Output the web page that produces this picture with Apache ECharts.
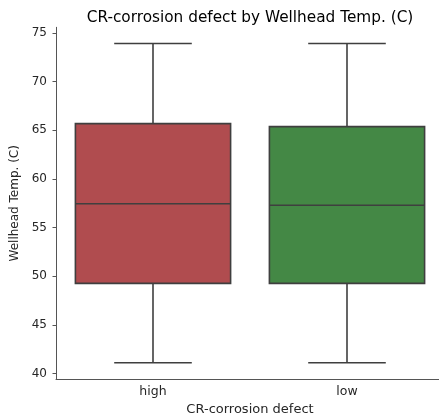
<!DOCTYPE html>
<html>
<head>
<meta charset="utf-8">
<script src="https://cdn.jsdelivr.net/npm/echarts@6/dist/echarts.min.js"></script>
<style>html,body{margin:0;padding:0;background:#fff}#c{width:439px;height:416px}</style>
</head>
<body>
<div id="c"></div>
<script>
const categories = ['high', 'low'];
const whiskerLow = [41.13, 41.13];
const q1 = [49.28, 49.28];
const median = [57.45, 57.29];
const q3 = [65.67, 65.36];
const whiskerHigh = [73.9, 73.9];
const boxColors = ['#b04c4f', '#448845'];
const yTicks = [40, 45, 50, 55, 60, 65, 70, 75];

const data = categories.map((c, i) => [i, whiskerLow[i], q1[i], median[i], q3[i], whiskerHigh[i]]);
const edge = '#3f3f3f';
const font = 'DejaVu Sans';

const chart = echarts.init(document.getElementById('c'), null, {renderer: 'canvas'});
chart.setOption({
  animation: false,
  title: {
    text: 'CR-corrosion defect by Wellhead Temp. (C)',
    left: 245, top: 6, textAlign: 'center',
    textStyle: {fontFamily: font, fontSize: 15.3, fontWeight: 'normal', color: '#000'}
  },
  grid: {left: 56, width: 388, top: 27.3, height: 352, containLabel: false, outerBoundsMode: 'none'},
  xAxis: {
    type: 'category', data: categories, boundaryGap: true,
    name: 'CR-corrosion defect', nameLocation: 'middle', nameGap: 22,
    nameTextStyle: {fontFamily: font, fontSize: 13, color: '#262626'},
    axisLine: {lineStyle: {color: '#555', width: 1}},
    axisTick: {alignWithLabel: true, length: 3.5, lineStyle: {color: '#555'}},
    axisLabel: {fontFamily: font, fontSize: 12.5, color: '#262626', margin: 6}
  },
  yAxis: {
    type: 'value', min: 39.43, max: 75.56,
    name: 'Wellhead Temp. (C)', nameLocation: 'middle', nameGap: 34,
    nameTextStyle: {fontFamily: font, fontSize: 12, color: '#262626'},
    axisLine: {show: true, lineStyle: {color: '#555', width: 1}},
    axisTick: {show: true, length: 3.5, lineStyle: {color: '#555'}, customValues: yTicks},
    axisLabel: {fontFamily: font, fontSize: 12, color: '#262626', margin: 9, customValues: yTicks},
    splitLine: {show: false}
  },
  series: [{
    type: 'custom',
    data: data,
    encode: {x: 0, y: [1, 2, 3, 4, 5]},
    renderItem: function (params, api) {
      const i = api.value(0);
      const bw = api.size([1, 0])[0] * 0.8;
      const cw = bw * 0.5;
      const pLo = api.coord([i, api.value(1)]);
      const pQ1 = api.coord([i, api.value(2)]);
      const pMed = api.coord([i, api.value(3)]);
      const pQ3 = api.coord([i, api.value(4)]);
      const pHi = api.coord([i, api.value(5)]);
      const cx = pQ1[0];
      const ls = {stroke: edge, lineWidth: 1.6, fill: null};
      return {
        type: 'group',
        children: [
          {type: 'line', shape: {x1: cx, y1: pLo[1], x2: cx, y2: pQ1[1]}, style: ls},
          {type: 'line', shape: {x1: cx, y1: pQ3[1], x2: cx, y2: pHi[1]}, style: ls},
          {type: 'line', shape: {x1: cx - cw / 2, y1: pLo[1], x2: cx + cw / 2, y2: pLo[1]}, style: ls},
          {type: 'line', shape: {x1: cx - cw / 2, y1: pHi[1], x2: cx + cw / 2, y2: pHi[1]}, style: ls},
          {type: 'rect', shape: {x: cx - bw / 2, y: pQ3[1], width: bw, height: pQ1[1] - pQ3[1]},
           style: {fill: boxColors[params.dataIndex], stroke: edge, lineWidth: 1.6}},
          {type: 'line', shape: {x1: cx - bw / 2, y1: pMed[1], x2: cx + bw / 2, y2: pMed[1]}, style: ls}
        ]
      };
    }
  }]
});
</script>
</body>
</html>
